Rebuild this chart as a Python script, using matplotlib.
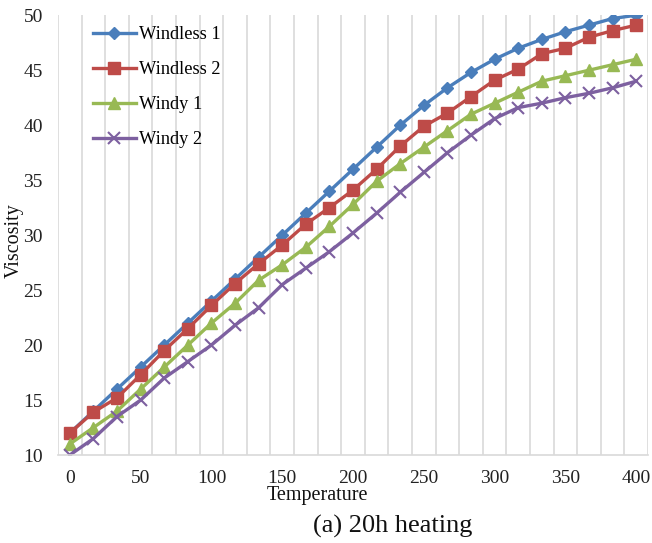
import numpy as np
import matplotlib
matplotlib.use('Agg')
import matplotlib.pyplot as plt

plt.rcParams['font.family'] = ['Liberation Serif', 'DejaVu Serif']

#### DATA ####
temp_labels = ['0', '50', '100', '150', '200', '250', '300', '350', '400']

windless1 = [12, 14, 16, 18, 20, 22, 24, 26, 28, 30, 32, 34, 36, 38, 40,
             41.8, 43.4, 44.8, 46, 47, 47.8, 48.5, 49.1, 49.7, 50]
windless2 = [12, 13.9, 15.2, 17.3, 19.5, 21.5, 23.6, 25.6, 27.4, 29.1, 31, 32.5,
             34.1, 36, 38.1, 39.9, 41.1, 42.6, 44.1, 45.1, 46.5, 47, 48, 48.6, 49.1]
windy1 = [11, 12.5, 14, 16, 18, 20, 22, 23.8, 25.9, 27.3, 28.9, 30.8, 32.8,
          34.9, 36.5, 38, 39.5, 41, 42, 43, 44, 44.5, 45, 45.5, 46]
windy2 = [10, 11.5, 13.5, 15, 17, 18.5, 20, 21.8, 23.4, 25.5, 27, 28.5, 30.2,
          32, 33.9, 35.7, 37.5, 39.1, 40.6, 41.6, 42, 42.5, 42.9, 43.4, 44]

#### PLOT ####
fig = plt.figure(figsize=(6.52, 5.43), dpi=100)
ax = fig.add_axes([0.089, 0.162, 0.905, 0.81])

cat = np.arange(len(windless1))
ax.plot(cat, windless1, color='#4A7EBB', lw=2.4, marker='D', ms=6.5, label='Windless 1')
ax.plot(cat, windless2, color='#BE4B48', lw=2.4, marker='s', ms=8, label='Windless 2')
ax.plot(cat, windy1, color='#98B954', lw=2.4, marker='^', ms=8, label='Windy 1')
ax.plot(cat, windy2, color='#7D60A0', lw=2.4, marker='x', ms=8, mew=1.5, label='Windy 2')

ax.set_xlim(-0.5, len(cat) - 0.5)
ax.set_ylim(10, 50)
ax.set_yticks(np.arange(10, 51, 5))
ax.set_xticks(cat[::3])
ax.set_xticklabels(temp_labels)
ax.set_xticks(np.arange(-0.5, len(cat), 1), minor=True)
ax.grid(which='minor', axis='x', color='#D9D9D9', lw=1.2)
ax.tick_params(which='both', length=0, labelsize=14, colors='#222222')
ax.tick_params(axis='x', pad=11)
ax.tick_params(axis='y', pad=11)

for s in ['top', 'right', 'left']:
    ax.spines[s].set_visible(False)
ax.spines['bottom'].set_color('#D9D9D9')
ax.spines['bottom'].set_linewidth(1.2)

ax.legend(loc='upper left', bbox_to_anchor=(0.031, 1.012), frameon=False,
          fontsize=13.2, handlelength=2.35, handletextpad=0.15, labelspacing=0.98)

fig.text(0.487, 0.088, 'Temperature', ha='center', va='center', fontsize=14.5, color='#111111')
fig.text(0.022, 0.557, 'Viscosity', ha='center', va='center', rotation=90, fontsize=14.5, color='#111111')
fig.text(0.603, 0.03, '(a) 20h heating', ha='center', va='center', fontsize=19, color='#111111')

fig.savefig('out.png', dpi=100)
